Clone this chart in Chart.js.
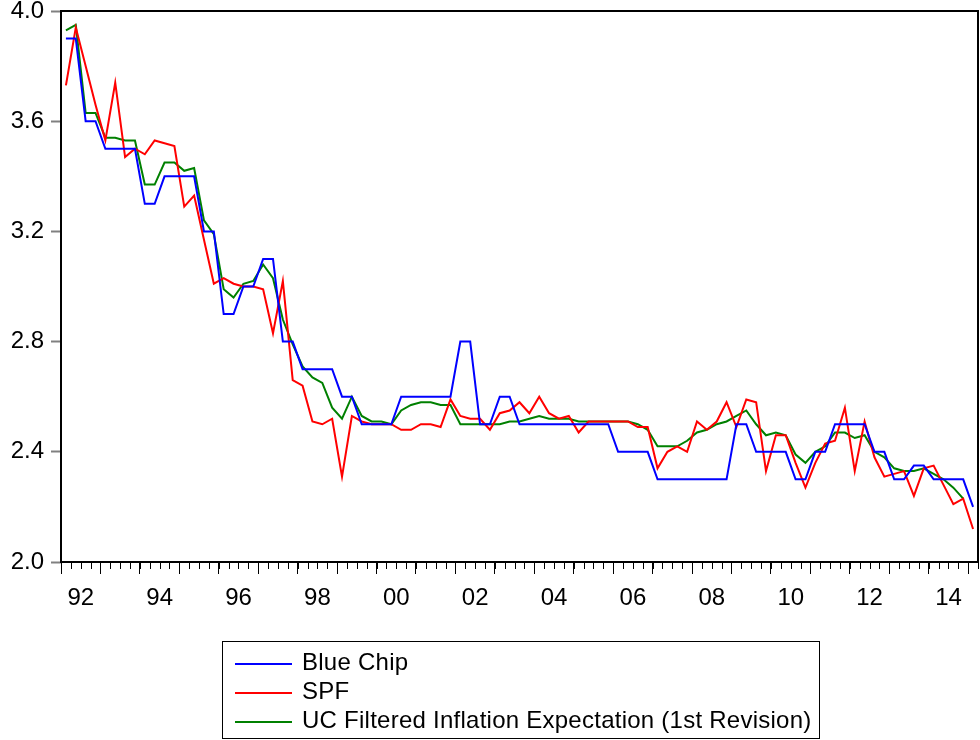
<!DOCTYPE html>
<html>
<head>
<meta charset="utf-8">
<script src="https://cdn.jsdelivr.net/npm/chart.js@4"></script>
<style>
  body { margin: 0; background: #fff; }
  #wrap { position: relative; width: 980px; height: 740px; }
  #legend {
    position: absolute; left: 222px; top: 641px; width: 596px;
    border: 1px solid #000; padding: 5px 0 4px 0;
    font: 24px 'Liberation Sans', Arial, sans-serif; line-height: 29px; color: #000;
    letter-spacing: 0.25px;
  }
  .row { white-space: nowrap; }
  .swatch { display: inline-block; width: 57px; height: 2px; margin: 0 10px 0 12px; vertical-align: middle; }
</style>
</head>
<body>
<div id="wrap">
  <canvas id="chart" width="980" height="740"></canvas>
  <div id="legend"></div>
</div>
<script>
// quarterly observations, 1992Q1 .. 2015Q1
const firstYear = 1992;
const tickYears = [1992, 1994, 1996, 1998, 2000, 2002, 2004, 2006, 2008, 2010, 2012, 2014];

const blueChip = [
  3.9, 3.9, 3.6, 3.6,   3.5, 3.5, 3.5, 3.5,   3.3, 3.3, 3.4, 3.4,   3.4, 3.4, 3.2, 3.2,
  2.9, 2.9, 3.0, 3.0,   3.1, 3.1, 2.8, 2.8,   2.7, 2.7, 2.7, 2.7,   2.6, 2.6, 2.5, 2.5,
  2.5, 2.5, 2.6, 2.6,   2.6, 2.6, 2.6, 2.6,   2.8, 2.8, 2.5, 2.5,   2.6, 2.6, 2.5, 2.5,
  2.5, 2.5, 2.5, 2.5,   2.5, 2.5, 2.5, 2.5,   2.4, 2.4, 2.4, 2.4,   2.3, 2.3, 2.3, 2.3,
  2.3, 2.3, 2.3, 2.3,   2.5, 2.5, 2.4, 2.4,   2.4, 2.4, 2.3, 2.3,   2.4, 2.4, 2.5, 2.5,
  2.5, 2.5, 2.4, 2.4,   2.3, 2.3, 2.35, 2.35, 2.3, 2.3, 2.3, 2.3,   2.2
];

const spf = [
  3.73, 3.94, 3.80, 3.66,  3.53, 3.74, 3.47, 3.50,  3.48, 3.53, 3.52, 3.51,  3.29, 3.33, 3.17, 3.01,
  3.03, 3.01, 3.00, 3.00,  2.99, 2.83, 3.02, 2.66,  2.64, 2.51, 2.50, 2.52,  2.31, 2.53, 2.51, 2.50,
  2.50, 2.50, 2.48, 2.48,  2.50, 2.50, 2.49, 2.59,  2.53, 2.52, 2.52, 2.48,  2.54, 2.55, 2.58, 2.54,
  2.60, 2.54, 2.52, 2.53,  2.47, 2.51, 2.51, 2.51,  2.51, 2.51, 2.49, 2.49,  2.34, 2.40, 2.42, 2.40,
  2.51, 2.48, 2.51, 2.58,  2.49, 2.59, 2.58, 2.33,  2.46, 2.46, 2.36, 2.27,  2.36, 2.43, 2.44, 2.56,
  2.33, 2.51, 2.38, 2.31,  2.32, 2.33, 2.24, 2.34,  2.35, 2.28, 2.21, 2.23,  2.12
];

const ucFiltered = [
  3.93, 3.95, 3.63, 3.63,  3.54, 3.54, 3.53, 3.53,  3.37, 3.37, 3.45, 3.45,  3.42, 3.43, 3.24, 3.19,
  2.99, 2.96, 3.01, 3.02,  3.08, 3.03, 2.88, 2.79,  2.71, 2.67, 2.65, 2.56,  2.52, 2.60, 2.53, 2.51,
  2.51, 2.50, 2.55, 2.57,  2.58, 2.58, 2.57, 2.57,  2.50, 2.50, 2.50, 2.50,  2.50, 2.51, 2.51, 2.52,
  2.53, 2.52, 2.52, 2.52,  2.51, 2.51, 2.51, 2.51,  2.51, 2.51, 2.50, 2.48,  2.42, 2.42, 2.42, 2.44,
  2.47, 2.48, 2.50, 2.51,  2.53, 2.55, 2.50, 2.46,  2.47, 2.46, 2.39, 2.36,  2.40, 2.42, 2.47, 2.47,
  2.45, 2.46, 2.40, 2.38,  2.34, 2.33, 2.33, 2.34,  2.32, 2.30, 2.27, 2.23,  null
];

const seriesNames = ['Blue Chip', 'SPF', 'UC Filtered Inflation Expectation (1st Revision)'];
const seriesColors = ['#0000ff', '#ff0000', '#008000'];

const quarters = [];
for (let i = 0; i < blueChip.length; i++) {
  quarters.push((firstYear + Math.floor(i / 4)) + 'Q' + (i % 4 + 1));
}

const font = { family: "'Liberation Sans', Arial, sans-serif", size: 24 };

// box round the plot + short quarter ticks
const frame = {
  id: 'frame',
  afterDraw(chart) {
    const c = chart.ctx, a = chart.chartArea, xs = chart.scales.x;
    const step = xs.getPixelForValue(1) - xs.getPixelForValue(0);
    c.save();
    c.strokeStyle = '#000';
    c.lineWidth = 1;
    c.beginPath();
    for (let i = 0; i <= quarters.length; i++) {
      const px = Math.round(xs.getPixelForValue(i) - step / 2) + 0.5;
      c.moveTo(px, a.bottom);
      c.lineTo(px, a.bottom + 7);
    }
    c.stroke();
    c.lineWidth = 2;
    c.strokeRect(a.left, a.top, a.right - a.left, a.bottom - a.top);
    c.restore();
  }
};

const ctx = document.getElementById('chart').getContext('2d');
const myChart = new Chart(ctx, {
  type: 'line',
  data: {
    labels: quarters,
    datasets: [blueChip, spf, ucFiltered].map((d, k) => ({
      label: seriesNames[k],
      data: d,
      borderColor: seriesColors[k],
      backgroundColor: seriesColors[k]
    }))
  },
  options: {
    responsive: false,
    animation: false,
    layout: { padding: { top: 11, right: 2, left: 0, bottom: 0 } },
    elements: {
      point: { radius: 0 },
      line: { tension: 0, borderWidth: 2 }
    },
    plugins: {
      legend: { display: false },
      tooltip: { enabled: false }
    },
    scales: {
      x: {
        type: 'category',
        offset: true,
        border: { display: false },
        grid: {
          offset: true,
          drawOnChartArea: false,
          tickLength: 12,
          tickWidth: 1,
          tickColor: (c) => (c.index % 4 === 0 ? '#000' : 'rgba(0,0,0,0)')
        },
        ticks: {
          autoSkip: false,
          maxRotation: 0,
          labelOffset: 5,
          padding: 10,
          color: '#000',
          font: font,
          callback: (v, i) => {
            const q = quarters[i];
            const yr = +q.slice(0, 4);
            return q.endsWith('Q2') && tickYears.includes(yr) ? q.slice(2, 4) : '';
          }
        },
        afterFit: (s) => { s.height = 178; s.paddingLeft = 0; s.paddingRight = 0; }
      },
      y: {
        min: 2.0,
        max: 4.0,
        border: { display: false },
        grid: { drawOnChartArea: false, tickLength: 10, tickWidth: 2, tickColor: '#808080' },
        ticks: {
          stepSize: 0.4,
          padding: 7,
          color: '#000',
          font: font,
          callback: (v) => v.toFixed(1)
        },
        afterFit: (s) => { s.width = 61; s.paddingTop = 0; s.paddingBottom = 0; }
      }
    }
  },
  plugins: [frame]
});

// legend box under the plot
const legend = document.getElementById('legend');
seriesNames.forEach((name, k) => {
  const row = document.createElement('div');
  row.className = 'row';
  const sw = document.createElement('span');
  sw.className = 'swatch';
  sw.style.background = seriesColors[k];
  row.appendChild(sw);
  row.appendChild(document.createTextNode(name));
  legend.appendChild(row);
});
</script>
</body>
</html>
